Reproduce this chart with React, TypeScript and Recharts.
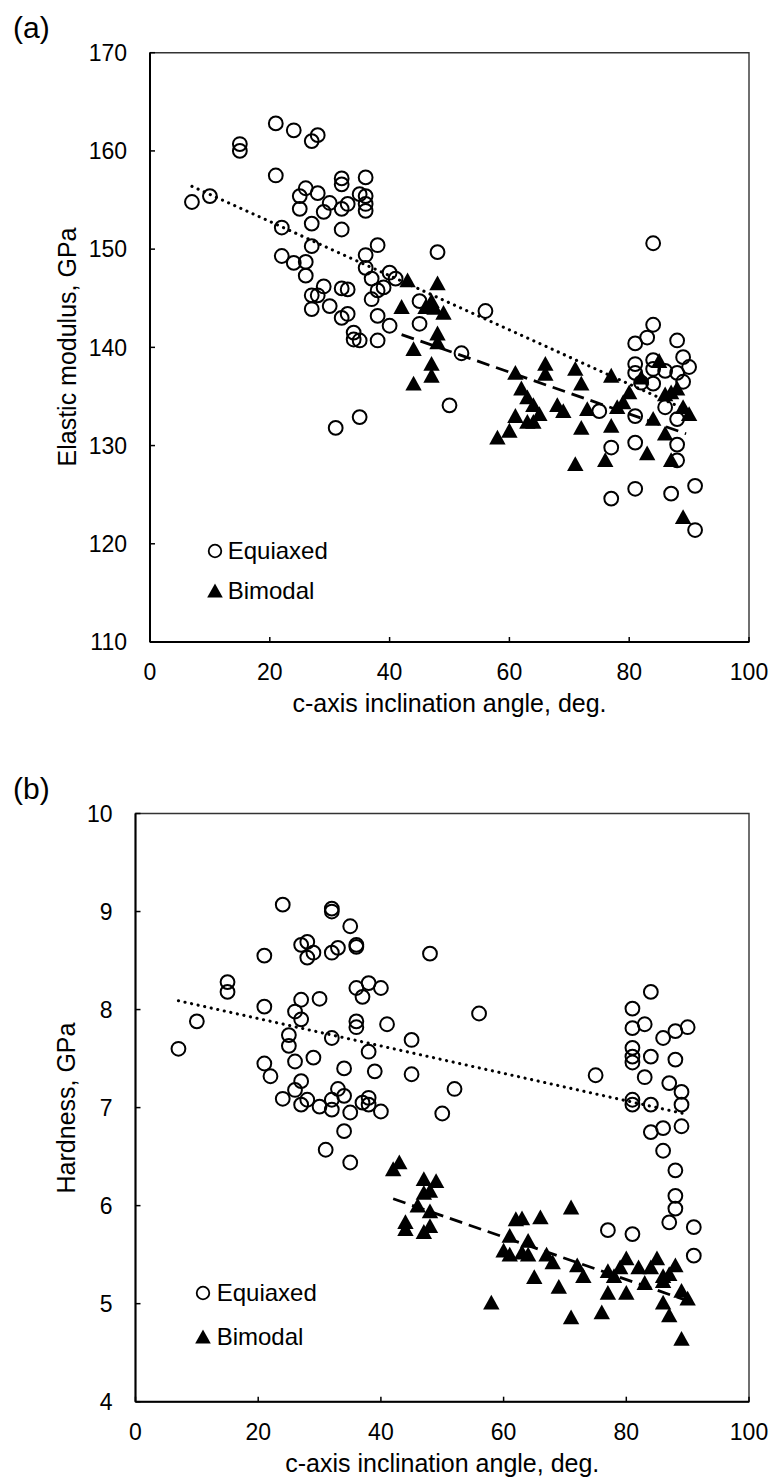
import React from 'react';
import { ScatterChart, Scatter, XAxis, YAxis, ReferenceLine, ReferenceArea, Legend } from 'recharts';

type Pt = [number, number];

// c-axis inclination angle (deg.) vs elastic modulus (GPa)
const equiaxedModulus: Pt[] = [
  [7, 154.8], [10, 155.4], [15, 160.7], [15, 160.0], [21, 162.8], [24, 162.1], [28, 161.6], [27, 161.0],
  [21, 157.5], [22, 152.2], [25, 155.4], [26, 156.2], [28, 155.7], [30, 154.7], [29, 153.8], [25, 154.1],
  [27, 152.6], [32, 157.2], [32, 156.6], [32, 154.1], [33, 154.6], [32, 152.0], [36, 157.3], [36, 155.4],
  [35, 155.6], [36, 154.6], [36, 153.9], [27, 150.3], [22, 149.3], [24, 148.6], [26, 148.7], [26, 147.3],
  [36, 149.4], [38, 150.4], [36, 148.1], [37, 147.0], [40, 147.6], [39, 146.1], [29, 146.2], [27, 145.3],
  [28, 145.3], [32, 146.0], [33, 145.9], [37, 144.9], [38, 145.8], [27, 143.9], [30, 144.2], [32, 143.0],
  [33, 143.4], [38, 143.2], [40, 142.2], [34, 141.5], [34, 140.8], [35, 140.7], [38, 140.7], [48, 149.7],
  [41, 147.0], [45, 144.7], [45, 142.4], [56, 143.7], [52, 139.4], [50, 134.1], [31, 131.8], [35, 132.9],
  [84, 150.6], [84, 142.3], [83, 141.0], [81, 140.4], [88, 140.7], [89, 139.0], [90, 138.0], [81, 138.3],
  [81, 137.4], [84, 138.7], [86, 137.6], [84, 137.8], [84, 136.3], [88, 137.4], [89, 136.5], [82, 136.4],
  [81, 133.0], [75, 133.5], [86, 133.9], [88, 132.7], [77, 129.8], [81, 130.3], [88, 130.1], [88, 128.5],
  [77, 124.6], [81, 125.6], [87, 125.1], [91, 125.9], [91, 121.4],
];

const bimodalModulus: Pt[] = [
  [43, 146.8], [48, 146.5], [42, 144.1], [47, 144.7], [46, 144.1], [47.5, 144.0], [49, 143.5], [48, 141.4],
  [48, 140.5], [44, 139.8], [47, 138.3], [47, 137.1], [44, 136.3], [61, 137.4], [66, 138.3], [66, 137.3],
  [71, 137.8], [62, 135.8], [63, 134.9], [64, 134.1], [61, 133.0], [65, 133.2], [63, 132.4], [64, 132.4],
  [68, 134.1], [69, 133.5], [60, 131.5], [58, 130.8], [72, 131.8], [72, 136.3], [77, 137.1], [73, 133.7],
  [77, 132.0], [78, 133.9], [79, 134.4], [80, 135.4], [82, 136.9], [85, 138.6], [86, 135.2], [87, 135.4],
  [88, 135.8], [89, 133.9], [90, 133.2], [84, 132.7], [86, 131.2], [83, 129.2], [87, 128.5], [71, 128.1],
  [76, 128.5], [89, 122.7],
];

// c-axis inclination angle (deg.) vs hardness (GPa)
const equiaxedHardness: Pt[] = [
  [7, 7.60], [10, 7.88], [15, 8.28], [15, 8.18], [21, 8.55], [21, 8.03], [24, 9.07], [27, 8.66],
  [28, 8.69], [29, 8.58], [28, 8.53], [32, 9.03], [32, 9.00], [32, 8.58], [33, 8.63], [35, 8.85],
  [36, 8.66], [36, 8.64], [30, 8.11], [27, 8.10], [26, 7.98], [27, 7.90], [36, 8.22], [38, 8.27],
  [37, 8.13], [40, 8.22], [36, 7.88], [36, 7.82], [25, 7.74], [25, 7.63], [32, 7.71], [38, 7.57],
  [21, 7.45], [22, 7.32], [26, 7.47], [29, 7.51], [34, 7.40], [39, 7.37], [27, 7.27], [26, 7.18],
  [24, 7.09], [27, 7.03], [28, 7.08], [30, 7.01], [32, 7.08], [33, 7.19], [34, 7.12], [32, 6.98],
  [35, 6.95], [37, 7.05], [38, 7.03], [48, 8.57], [56, 7.96], [41, 7.85], [45, 7.69], [45, 7.34],
  [52, 7.19], [38, 7.10], [40, 6.96], [50, 6.94], [31, 6.57], [34, 6.76], [35, 6.44], [75, 7.33],
  [81, 8.01], [81, 7.81], [83, 7.85], [86, 7.71], [88, 7.78], [90, 7.82], [81, 7.61], [81, 7.52],
  [81, 7.46], [84, 7.52], [88, 7.49], [83, 7.31], [87, 7.25], [89, 7.16], [89, 7.03], [81, 7.08],
  [81, 7.03], [84, 7.03], [86, 6.79], [84, 6.75], [89, 6.81], [86, 6.56], [88, 6.36], [88, 6.10],
  [88, 5.97], [87, 5.83], [77, 5.75], [81, 5.71], [91, 5.78], [91, 5.49], [84, 8.18],
];

const bimodalHardness: Pt[] = [
  [43, 6.44], [42, 6.37], [47, 6.27], [49, 6.25], [47, 6.13], [48, 6.15], [46, 6.00], [48, 5.94],
  [44, 5.83], [44, 5.76], [47, 5.73], [48, 5.79], [62, 5.86], [63, 5.87], [66, 5.88], [71, 5.98],
  [61, 5.69], [64, 5.64], [60, 5.54], [61, 5.50], [63, 5.52], [64, 5.50], [67, 5.50], [68, 5.42],
  [72, 5.39], [73, 5.28], [65, 5.27], [69, 5.17], [58, 5.01], [71, 4.86], [76, 4.91], [77, 5.33],
  [78, 5.28], [79, 5.37], [80, 5.46], [77, 5.11], [80, 5.11], [82, 5.37], [83, 5.21], [84, 5.37],
  [85, 5.46], [86, 5.28], [86, 5.23], [87, 5.30], [88, 5.39], [86, 5.01], [87, 4.88], [89, 5.13],
  [90, 5.05], [89, 4.64],
];

// linear trend end points
const equiaxedModulusTrend: Pt[] = [[7, 156.4], [90, 133.5]];
const bimodalModulusTrend: Pt[] = [[42, 141.3], [89.5, 131.2]];
const equiaxedHardnessTrend: Pt[] = [[7, 8.09], [90, 6.93]];
const bimodalHardnessTrend: Pt[] = [[42, 6.07], [89.5, 5.04]];

const angleTicks = [0, 20, 40, 60, 80, 100];
const modulusTicks = [110, 120, 130, 140, 150, 160, 170];
const hardnessTicks = [4, 5, 6, 7, 8, 9, 10];

const FONT = '"Liberation Sans", Arial, sans-serif';
const W = 776;
const PLOT_RIGHT = 749;

const toPoints = (rows: Pt[]) => rows.map(([x, y]) => ({ x, y }));

const Ring = (p: any) => (
  <circle cx={p.cx} cy={p.cy} r={6.9} fill="none" stroke="#000" strokeWidth={2} />
);
const Tri = (p: any) => (
  <path d={`M${p.cx},${p.cy - 8}L${p.cx + 8.2},${p.cy + 6.8}L${p.cx - 8.2},${p.cy + 6.8}Z`} fill="#000" />
);

type LegendPos = { markerX: number; row1: number; row2: number; textX: number };

const LegendBox = ({ pos }: { pos: LegendPos }) => {
  const left = pos.markerX - 9;
  const top = pos.row1 - 20;
  const row = (cy: number, marker: React.ReactNode, label: string) => (
    <div style={{ position: 'absolute', left: 0, top: cy - top - 12, height: 24, whiteSpace: 'nowrap' }}>
      <svg width={18} height={18} style={{ position: 'absolute', left: 0, top: 3 }}>{marker}</svg>
      <span style={{ position: 'absolute', left: pos.textX - left, top: 0, fontSize: 24, lineHeight: '24px', color: '#000' }}>
        {label}
      </span>
    </div>
  );
  return (
    <div style={{ position: 'relative', width: 200, height: 100, fontFamily: FONT }}>
      {row(pos.row1, <circle cx={9} cy={9} r={6.3} fill="none" stroke="#000" strokeWidth={1.8} />, 'Equiaxed')}
      {row(pos.row2, <path d="M9,1.5L16.8,15.5L1.2,15.5Z" fill="#000" />, 'Bimodal')}
    </div>
  );
};

type PanelProps = {
  top: number;
  height: number;
  plotTop: number;
  plotLeft: number;
  plotBottom: number;
  yDomain: [number, number];
  yTicks: number[];
  equiaxed: Pt[];
  bimodal: Pt[];
  equiaxedTrend: Pt[];
  bimodalTrend: Pt[];
  letter: string;
  yTitle: string;
  yTitleX: number;
  legend: LegendPos;
};

const Panel = (p: PanelProps) => {
  const xAxisHeight = p.height - p.plotBottom;
  const plotMidX = (p.plotLeft + PLOT_RIGHT) / 2;
  const plotMidY = (p.plotTop + p.plotBottom) / 2;
  return (
    <div style={{ position: 'absolute', left: 0, top: p.top, width: W, height: p.height, fontFamily: FONT }}>
      <ScatterChart width={W} height={p.height} margin={{ top: p.plotTop, right: W - PLOT_RIGHT, bottom: 0, left: 0 }}>
        <ReferenceArea x1={0} x2={100} y1={p.yDomain[0]} y2={p.yDomain[1]} fill="none" fillOpacity={0} stroke="#333" strokeWidth={1.4} />
        <XAxis
          type="number"
          dataKey="x"
          domain={[0, 100]}
          ticks={angleTicks}
          interval={0}
          height={xAxisHeight}
          tickSize={-5}
          tickMargin={27}
          axisLine={{ stroke: '#000', strokeWidth: 2 }}
          tickLine={{ stroke: '#000', strokeWidth: 1.5 }}
          tick={{ fill: '#000', fontSize: 23 }}
        />
        <YAxis
          type="number"
          dataKey="y"
          domain={p.yDomain}
          ticks={p.yTicks}
          interval={0}
          width={p.plotLeft}
          tickSize={-5}
          tickMargin={28}
          axisLine={{ stroke: '#000', strokeWidth: 2 }}
          tickLine={{ stroke: '#000', strokeWidth: 1.5 }}
          tick={{ fill: '#000', fontSize: 23 }}
        />
        <ReferenceLine segment={toPoints(p.equiaxedTrend)} stroke="#000" strokeWidth={3.1} strokeDasharray="0.1 6.6" strokeLinecap="round" />
        <ReferenceLine segment={toPoints(p.bimodalTrend)} stroke="#000" strokeWidth={2.8} strokeDasharray="13 7" />
        <Scatter name="Equiaxed" data={toPoints(p.equiaxed)} shape={Ring} isAnimationActive={false} />
        <Scatter name="Bimodal" data={toPoints(p.bimodal)} shape={Tri} isAnimationActive={false} />
        <Legend
          layout="vertical"
          align="center"
          verticalAlign="middle"
          wrapperStyle={{ left: p.legend.markerX - 9, top: p.legend.row1 - 20, width: 200, height: 100 }}
          content={() => <LegendBox pos={p.legend} />}
        />
      </ScatterChart>
      <div style={{ position: 'absolute', left: 13, top: p.plotTop - 40, fontSize: 30, lineHeight: '30px', color: '#000' }}>
        {p.letter}
      </div>
      <div
        style={{
          position: 'absolute',
          left: p.yTitleX,
          top: plotMidY,
          transform: 'translate(-50%, -50%) rotate(-90deg)',
          fontSize: 25,
          lineHeight: '25px',
          whiteSpace: 'nowrap',
          color: '#000',
        }}
      >
        {p.yTitle}
      </div>
      <div
        style={{
          position: 'absolute',
          left: plotMidX,
          top: p.plotBottom + 70 - 21,
          transform: 'translateX(-50%)',
          fontSize: 25,
          lineHeight: '25px',
          whiteSpace: 'nowrap',
          color: '#000',
        }}
      >
        c-axis inclination angle, deg.
      </div>
    </div>
  );
};

export default function App() {
  return (
    <div style={{ position: 'absolute', left: 0, top: 0, width: W, height: 1483, background: '#fff', overflow: 'hidden' }}>
      <Panel
        top={0}
        height={720}
        plotTop={52.7}
        plotLeft={150}
        plotBottom={642}
        yDomain={[110, 170]}
        yTicks={modulusTicks}
        equiaxed={equiaxedModulus}
        bimodal={bimodalModulus}
        equiaxedTrend={equiaxedModulusTrend}
        bimodalTrend={bimodalModulusTrend}
        letter="(a)"
        yTitle="Elastic modulus, GPa"
        yTitleX={67}
        legend={{ markerX: 215, row1: 550.7, row2: 591, textX: 227.7 }}
      />
      <Panel
        top={740}
        height={743}
        plotTop={73.5}
        plotLeft={135.5}
        plotBottom={661.7}
        yDomain={[4, 10]}
        yTicks={hardnessTicks}
        equiaxed={equiaxedHardness}
        bimodal={bimodalHardness}
        equiaxedTrend={equiaxedHardnessTrend}
        bimodalTrend={bimodalHardnessTrend}
        letter="(b)"
        yTitle="Hardness, GPa"
        yTitleX={66}
        legend={{ markerX: 202.7, row1: 553.3, row2: 597.3, textX: 216.7 }}
      />
    </div>
  );
}
